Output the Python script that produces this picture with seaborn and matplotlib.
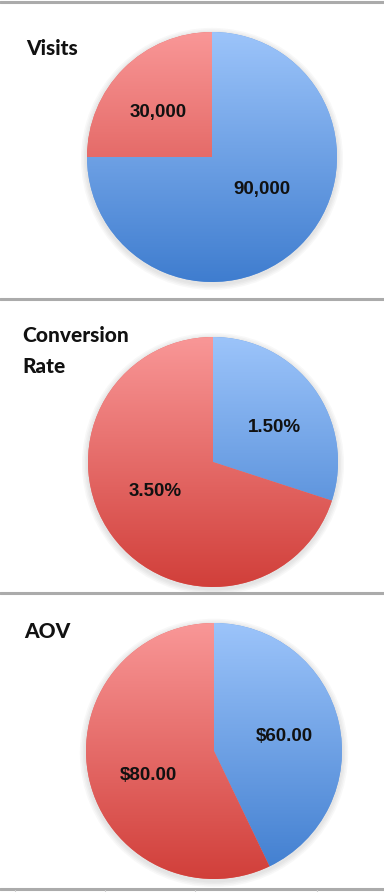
import numpy as np
import matplotlib
matplotlib.use("Agg")
import matplotlib.pyplot as plt
from matplotlib.lines import Line2D
from matplotlib.patches import Circle
import seaborn as sns

sns.set_theme(style="white")
plt.rcParams['font.family'] = ['Liberation Sans', 'DejaVu Sans']

# data
titles = ["Visits", "Conversion\nRate", "AOV"]
blue_values = [90000, 1.5, 60.0]
red_values = [30000, 3.5, 80.0]
blue_labels = ["90,000", "1.50%", "$60.00"]
red_labels = ["30,000", "3.50%", "$80.00"]

W, H = 384, 892
fig = plt.figure(figsize=(W / 100, H / 100), dpi=100)
fig.patch.set_facecolor("white")

# vertical gradients, dark at bottom -> light at top
blue_cmap = sns.blend_palette(["#3f7dcf", "#9cc4fa"], as_cmap=True)
red_cmap = sns.blend_palette(["#d13f3a", "#f99797"], as_cmap=True)
grad = np.linspace(0, 1, 256).reshape(-1, 1)

# layout in pixels: pie centre x, centre y, radius / title anchor
centres = [(212, 157, 125), (213, 462, 125), (214, 751, 128)]
title_pos = [(26, 39), (22, 326), (24, 622)]
# label spots inside each pie (radius units), blue then red
label_spots = [[(0.40, -0.26), (-0.43, 0.36)],
               [(0.49, 0.28), (-0.46, -0.24)],
               [(0.55, 0.11), (-0.51, -0.19)]]
pad = 1.08

for i in range(3):
    cx, cy, r = centres[i]
    rr = r * pad
    ax = fig.add_axes([(cx - rr) / W, (H - cy - rr) / H, 2 * rr / W, 2 * rr / H])

    # soft shadow
    for k in range(4):
        ax.add_patch(Circle((0.0, -0.015), 1.0 + 0.012 * (k + 1), color="#777777",
                            alpha=0.05, lw=0, zorder=0))

    wedges, texts = ax.pie(
        [blue_values[i], red_values[i]],
        labels=[blue_labels[i], red_labels[i]],
        labeldistance=0.55, startangle=90, counterclock=False,
        colors=["#6a9fe4", "#e56a66"], wedgeprops=dict(linewidth=0),
        textprops=dict(fontsize=13.5, fontweight="bold", ha="center",
                       va="center", color="#111111"))
    for w, cmap in zip(wedges, [blue_cmap, red_cmap]):
        im = ax.imshow(grad, cmap=cmap, extent=[-1, 1, -1, 1], origin="lower",
                       aspect="auto", zorder=2)
        im.set_clip_path(w)
    for t, spot in zip(texts, label_spots[i]):
        t.set_position(spot)
        t.set_zorder(5)

    ax.set_xlim(-pad, pad)
    ax.set_ylim(-pad, pad)
    ax.set_aspect("equal")
    ax.axis("off")

    tx, ty = title_pos[i]
    fig.text(tx / W, 1 - ty / H, titles[i], ha="left", va="top",
             fontsize=15, fontweight="black", family=["Lato", "DejaVu Sans"],
             color="#111111", linespacing=1.75)

# separator lines between panels
for y in [2, 299, 593, 889]:
    fig.add_artist(Line2D([0, 1], [1 - y / H, 1 - y / H], color="#ababab", lw=2.2))
for x in [15, 105, 195, 317]:
    fig.add_artist(Line2D([x / W, x / W], [0, 2 / H], color="#cfcfcf", lw=0.8))

fig.savefig("out.png", dpi=100, facecolor="white")
